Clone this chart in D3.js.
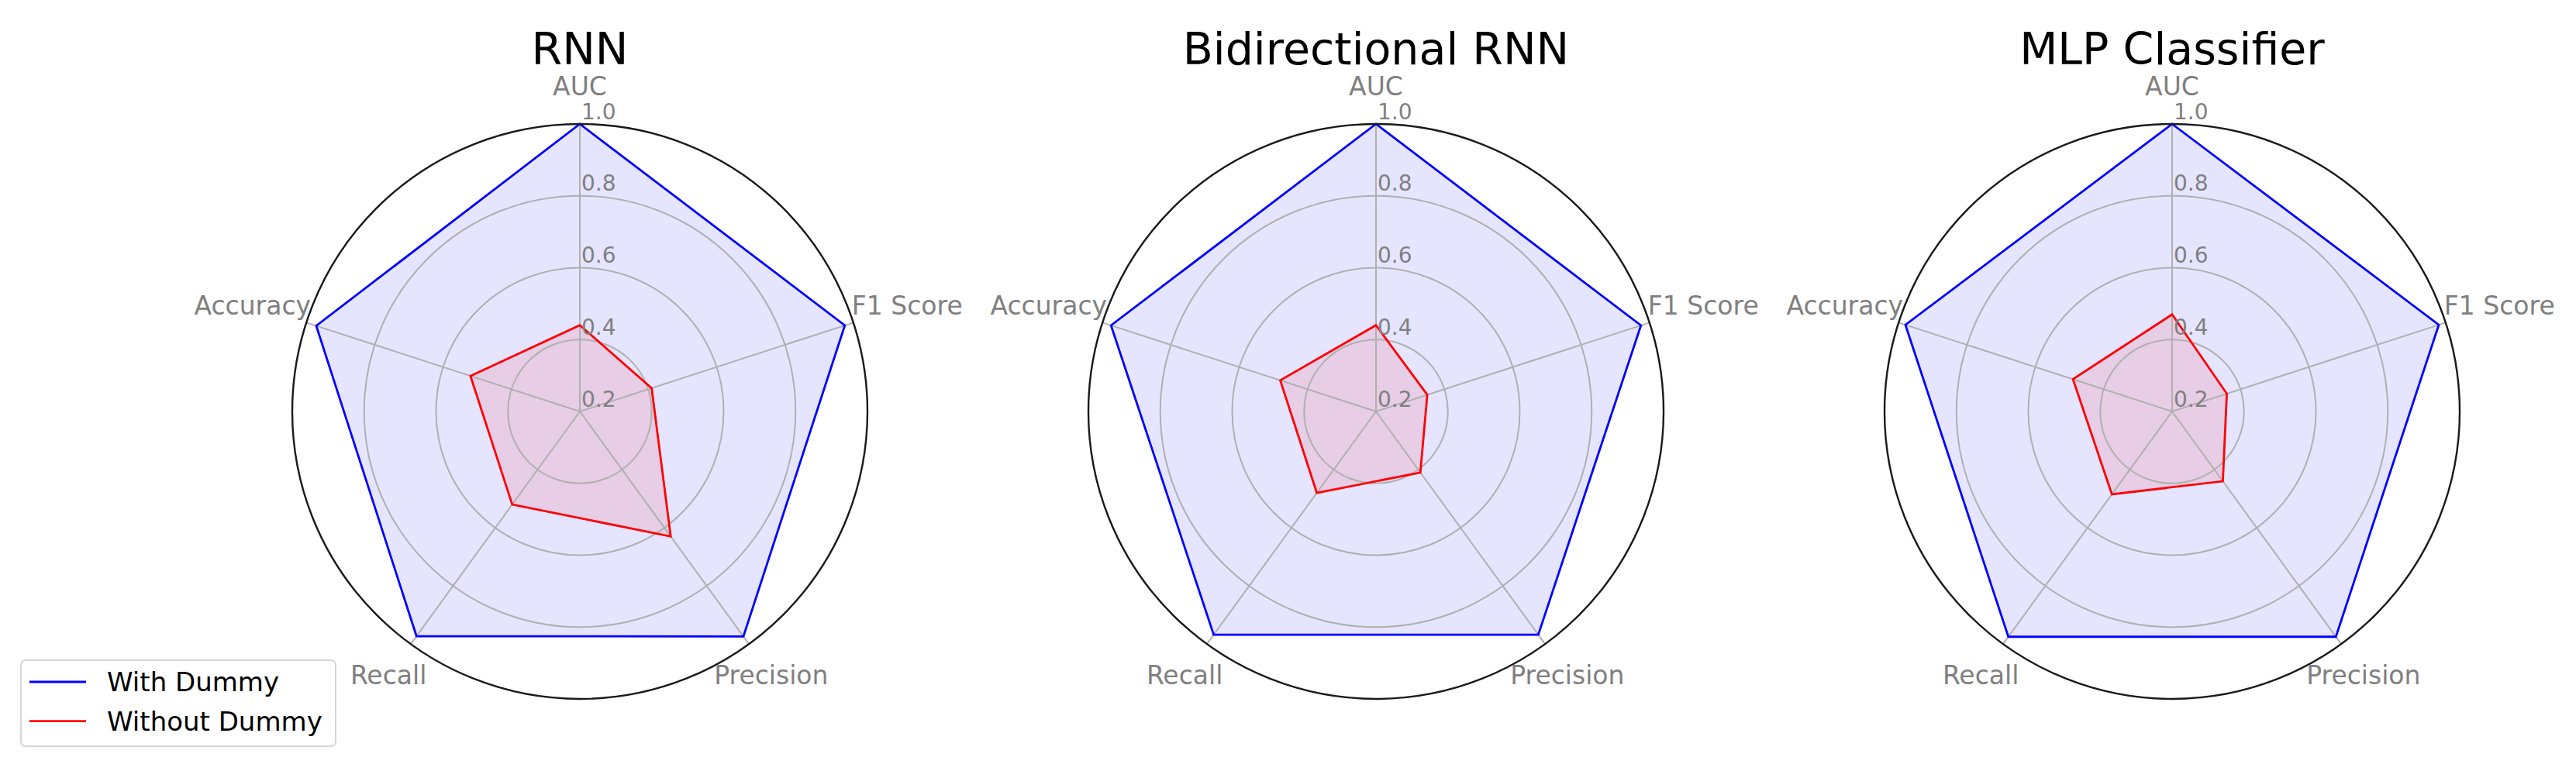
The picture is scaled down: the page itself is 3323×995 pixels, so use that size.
<!DOCTYPE html>
<html>
<head>
<meta charset="utf-8">
<script src="https://cdn.jsdelivr.net/npm/d3@7"></script>
<style>
	body { margin: 0; background: #fff; }
	svg { display: block; font-family: 'DejaVu Sans', sans-serif; }
</style>
</head>
<body>
<svg id="radar" width="3323" height="995"></svg>
<script>
'use strict'

var models = ['RNN', 'Bidirectional RNN', 'MLP Classifier'];
var metrics = ['AUC', 'F1 Score', 'Precision', 'Recall', 'Accuracy'];

// values per model, in the order of metrics
var withDummy = [
	[1.0, 0.975, 0.974, 0.973, 0.971],
	[1.0, 0.975, 0.968, 0.968, 0.975],
	[1.0, 0.98, 0.975, 0.975, 0.98]
];
var withoutDummy = [
	[0.44, 0.41, 0.63, 0.52, 0.52],
	[0.44, 0.35, 0.41, 0.48, 0.48],
	[0.47, 0.36, 0.44, 0.485, 0.49]
];

var rTicks = [0.2, 0.4, 0.6, 0.8, 1.0];
var rTickLabels = ['0.2', '0.4', '0.6', '0.8', '1.0'];

var seriesNames = ['With Dummy', 'Without Dummy'];
var seriesColors = ['#0000ff', '#ff0000'];

var size = { width: 3323, height: 995 };
var R = 371;
var centerY = 531;

var svg = d3.select('#radar');

var xCenter = d3.scalePoint()
	.domain(models)
	.range([748, 2802]);

var rScale = d3.scaleLinear()
	.domain([0.2, 1.0])
	.range([0, R]);

var angle = d3.scalePoint()
	.domain(metrics)
	.range([0, 2*Math.PI*4/5]);

function drawRadar(model, i){
	var g = svg.append('g')
		.attr('transform', `translate(${xCenter(model)}, ${centerY})`);

	var series = [withDummy[i], withoutDummy[i]];
	var line = d3.lineRadial()
		.angle(function(d, k){ return angle(metrics[k]); })
		.radius(function(d){ return rScale(d); })
		.curve(d3.curveLinearClosed);

	// fills first, grid over them
	g.append('g').selectAll('path')
		.data(series)
		.enter()
		.append('path')
		.attr('d', line)
		.attr('fill', function(d, k){ return seriesColors[k]; })
		.attr('fill-opacity', 0.1)
		.attr('stroke', 'none');

	g.append('g').selectAll('circle')
		.data(rTicks.slice(1, -1))
		.enter()
		.append('circle')
		.attr('r', function(d){ return rScale(d); })
		.attr('fill', 'none')
		.attr('stroke', '#b0b0b0')
		.attr('stroke-width', 2);

	g.append('g').selectAll('line')
		.data(metrics)
		.enter()
		.append('line')
		.attr('x1', 0).attr('y1', 0)
		.attr('x2', function(d){ return R*Math.sin(angle(d)); })
		.attr('y2', function(d){ return -R*Math.cos(angle(d)); })
		.attr('stroke', '#b0b0b0')
		.attr('stroke-width', 2);

	g.append('g').selectAll('path')
		.data(series)
		.enter()
		.append('path')
		.attr('d', line)
		.attr('fill', 'none')
		.attr('stroke', function(d, k){ return seriesColors[k]; })
		.attr('stroke-width', 2.8)
		.attr('stroke-linejoin', 'miter');

	g.append('circle')
		.attr('r', rScale(1.0))
		.attr('fill', 'none')
		.attr('stroke', '#1a1a1a')
		.attr('stroke-width', 2.4);

	g.append('g').selectAll('text')
		.data(rTicks)
		.enter()
		.append('text')
		.attr('x', 2)
		.attr('y', function(d){ return -rScale(d) - 6.5; })
		.attr('font-size', 28)
		.attr('fill', '#808080')
		.text(function(d, k){ return rTickLabels[k]; });

	g.append('g').selectAll('text')
		.data(metrics)
		.enter()
		.append('text')
		.attr('x', function(d){
			var a = angle(d);
			var pad = Math.abs(Math.sin(a)) > 0.9 ? 73 : 49;
			return (R + pad)*Math.sin(a);
		})
		.attr('y', function(d){
			var a = angle(d);
			var pad = Math.abs(Math.sin(a)) > 0.9 ? 73 : 49;
			return -(R + pad)*Math.cos(a) + 12;
		})
		.attr('text-anchor', 'middle')
		.attr('font-size', 33)
		.attr('fill', '#808080')
		.text(function(d){ return d; });

	svg.append('text')
		.attr('x', xCenter(model))
		.attr('y', 83)
		.attr('text-anchor', 'middle')
		.attr('font-size', 57)
		.attr('fill', '#000')
		.text(model);
}

models.forEach(drawRadar);

// legend
var legend = svg.append('g').attr('transform', 'translate(27, 852)');
legend.append('rect')
	.attr('width', 406)
	.attr('height', 111)
	.attr('rx', 6)
	.attr('fill', '#fff')
	.attr('stroke', '#d6d6d6')
	.attr('stroke-width', 2);

var item = legend.selectAll('g.item')
	.data(seriesNames)
	.enter()
	.append('g')
	.attr('class', 'item')
	.attr('transform', function(d, k){ return `translate(0, ${28 + k*50.7})`; });

item.append('line')
	.attr('x1', 11).attr('x2', 84)
	.attr('y1', 0).attr('y2', 0)
	.attr('stroke', function(d, k){ return seriesColors[k]; })
	.attr('stroke-width', 2.8);

item.append('text')
	.attr('x', 111)
	.attr('y', 12)
	.attr('font-size', 34)
	.attr('fill', '#000')
	.text(function(d){ return d; });
</script>
</body>
</html>
